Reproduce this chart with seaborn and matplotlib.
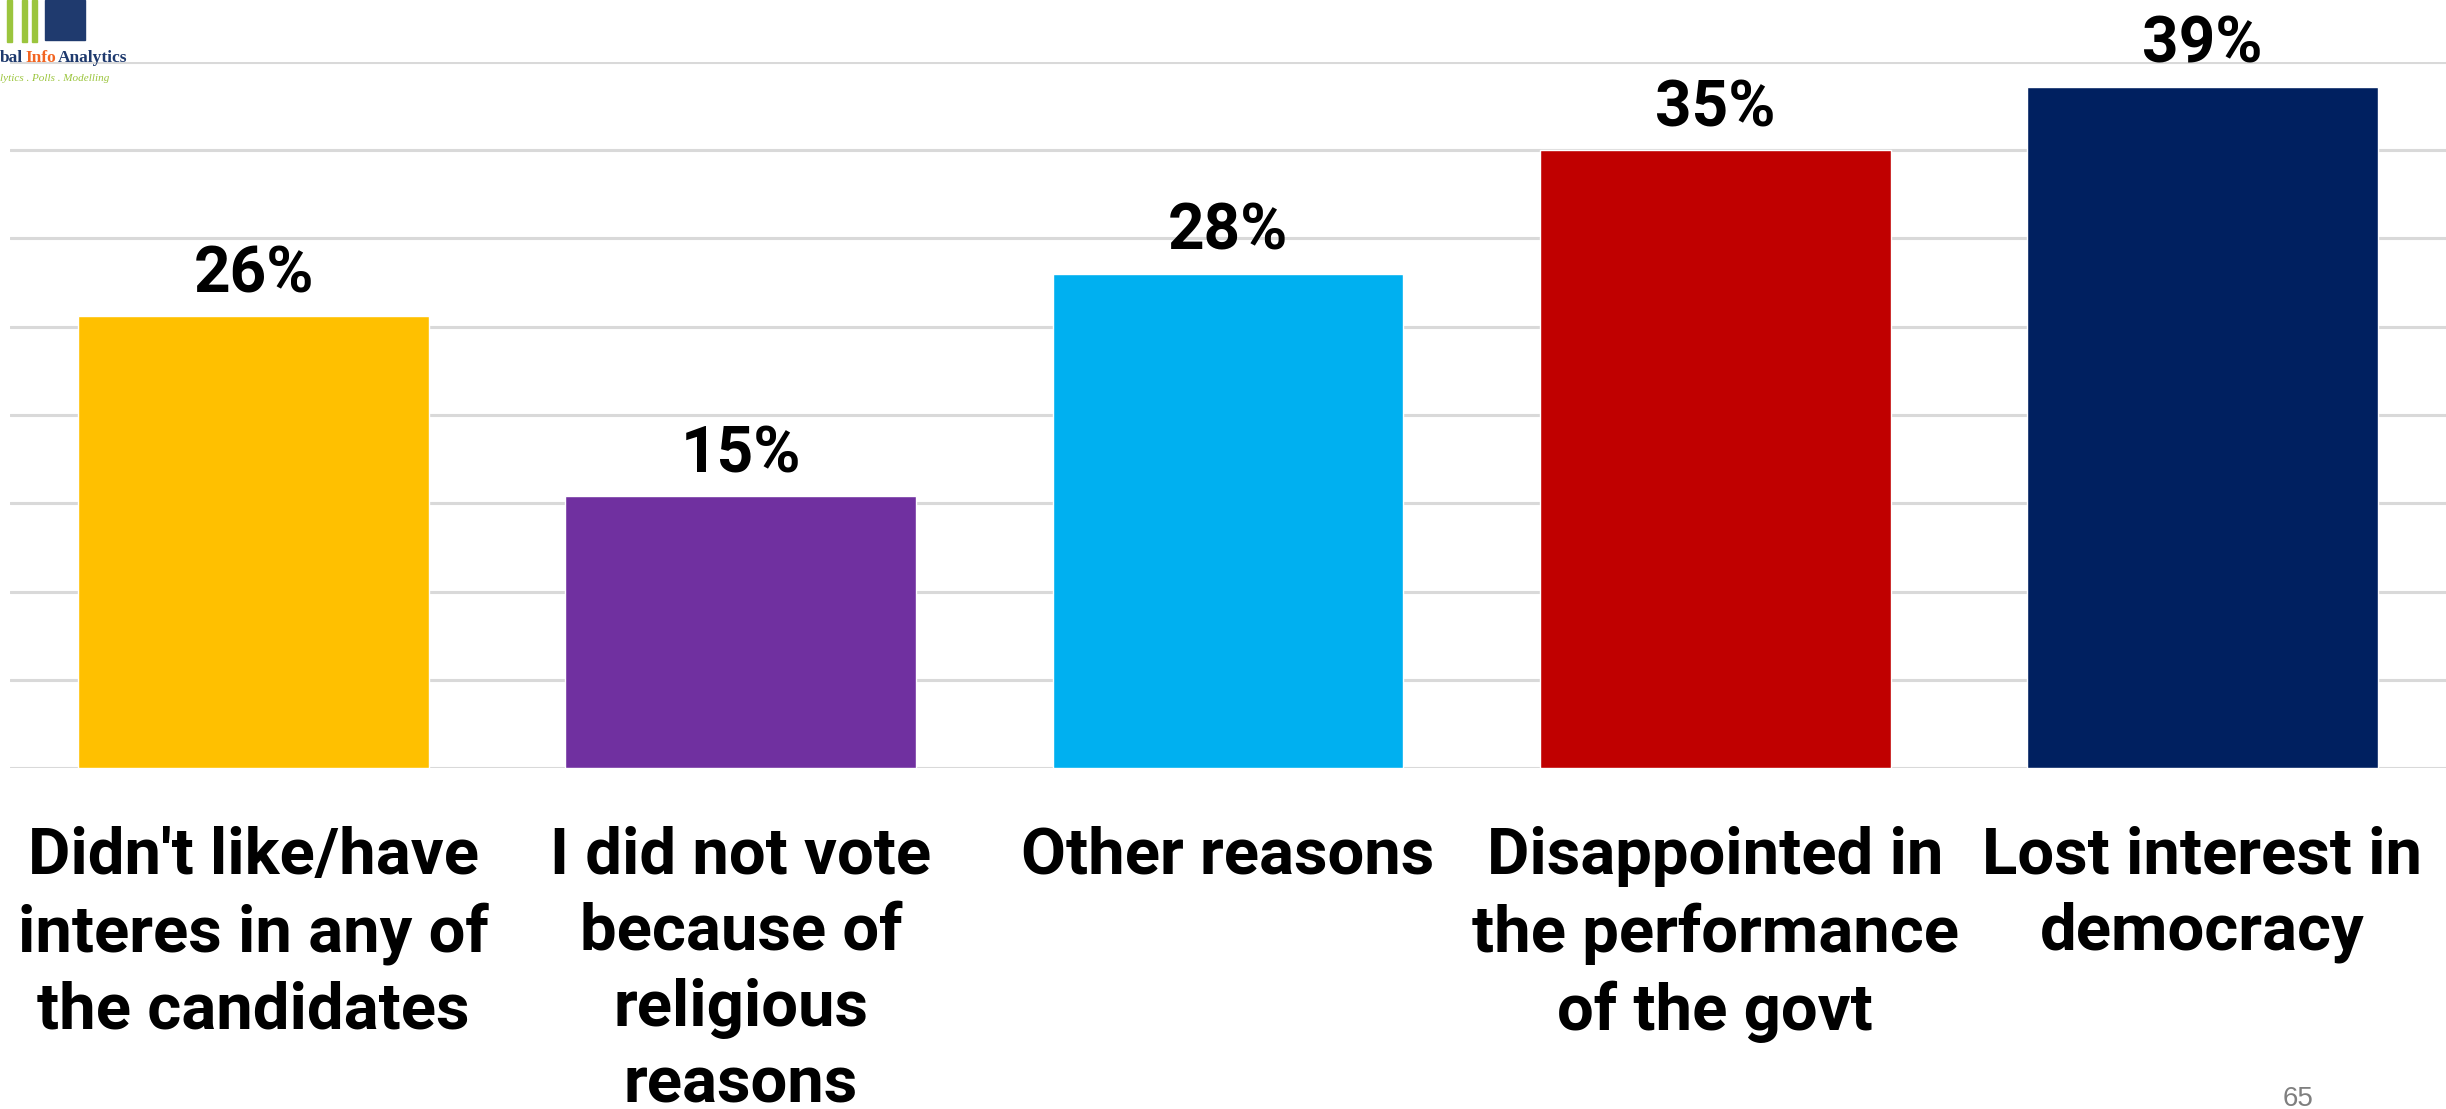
import matplotlib
matplotlib.use('Agg')
import matplotlib.pyplot as plt
import seaborn as sns
import pandas as pd
from matplotlib.patches import Rectangle

# Chart data
categories = [
    "Didn't like/have\ninteres in any of\nthe candidates",
    "I did not vote\nbecause of\nreligious\nreasons",
    "Other reasons",
    "Disappointed in\nthe performance\nof the govt",
    "Lost interest in\ndemocracy",
]
values = [25.6, 15.4, 28.0, 35.0, 38.6]
bar_colors = ["#FFC000", "#7030A0", "#00B0F0", "#C00000", "#002060"]

df = pd.DataFrame({'reason': categories, 'share': values})

sns.set_style('white')
plt.rcParams['font.family'] = ['Roboto', 'DejaVu Sans']

W, H = 2446, 1109
fig = plt.figure(figsize=(W / 100, H / 100), dpi=100)
ax = fig.add_axes([10 / W, 1 - 768 / H, 1 - 10 / W, (768 - 62) / H])

sns.barplot(data=df, x='reason', y='share', hue='reason', palette=bar_colors,
            legend=False, width=0.72, saturation=1, ax=ax, zorder=3)

ax.set_ylim(0, 40)
ax.set_xlim(-0.5, 4.5)
ax.set_yticks(range(0, 41, 5))
ax.yaxis.grid(True, color='#D9D9D9', linewidth=2.2, zorder=0)
ax.set_axisbelow(True)
ax.tick_params(axis='y', left=False, labelleft=False)
ax.tick_params(axis='x', bottom=False, pad=38)
for s in ax.spines.values():
    s.set_visible(False)
ax.set_xlabel('')
ax.set_ylabel('')

for lbl in ax.get_xticklabels():
    lbl.set_fontsize(47)
    lbl.set_fontweight('bold')
    lbl.set_linespacing(1.32)
    lbl.set_color('black')

for cont in ax.containers:
    ax.bar_label(cont, labels=[f"{v:.0f}%" for v in cont.datavalues],
                 padding=8, fontsize=46, fontweight='bold', color='black',
                 clip_on=False)

# page number
fig.text(2298 / W, 1 - 1099 / H, '65', fontsize=20, color='#7F7F7F',
         ha='center', va='center', family='Liberation Sans')

# partial logo in the top-left corner (cut off by the slide edge)
for x0 in (7, 22, 32):
    fig.patches.append(Rectangle((x0 / W, 1 - 42 / H), 5 / W, 42 / H,
                                 transform=fig.transFigure, color='#9BC53D'))
fig.patches.append(Rectangle((45 / W, 1 - 40 / H), 40 / W, 40 / H,
                             transform=fig.transFigure, color='#1F3A6E'))
logo_font = dict(fontsize=12.5, ha='left', va='baseline',
                 family='Liberation Serif', fontweight='bold')
fig.text(0, 1 - 62 / H, 'bal', color='#1F3A6E', **logo_font)
fig.text(25 / W, 1 - 62 / H, 'Info', color='#F26522', **logo_font)
fig.text(58 / W, 1 - 62 / H, 'Analytics', color='#1F3A6E', **logo_font)
fig.text(0, 1 - 81 / H, 'lytics . Polls . Modelling', fontsize=8,
         color='#9BC53D', ha='left', va='baseline', family='Liberation Serif',
         style='italic')

fig.savefig('out.png', dpi=100)
